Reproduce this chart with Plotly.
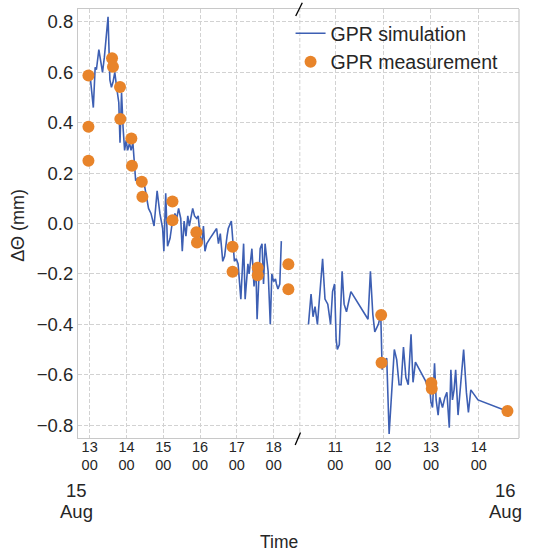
import plotly.graph_objects as go

# ---------------- data ----------------
DAY1 = "2021-08-15 "
DAY2 = "2021-08-16 "

sim_left_time = [
    "13:01", "13:06", "13:09", "13:11", "13:15", "13:17:30", "13:21", "13:24", "13:27", "13:30",
    "13:33", "13:35:30", "13:38", "13:41", "13:44", "13:47:30", "13:49:30", "13:52", "13:54:30", "13:57",
    "13:59:30", "14:02", "14:05", "14:07:30", "14:10:30", "14:13", "14:15", "14:18:30", "14:22", "14:28",
    "14:32", "14:36", "14:40", "14:43:30", "14:45", "14:50", "14:54:30", "14:59", "15:01", "15:04",
    "15:07", "15:11", "15:14:30", "15:19", "15:22", "15:25", "15:28:30", "15:31", "15:34", "15:37",
    "15:40", "15:42:30", "15:45", "15:48", "15:51", "15:54:30", "15:57", "16:00", "16:03", "16:05:30",
    "16:08", "16:11", "16:16", "16:22", "16:27", "16:30", "16:33", "16:37", "16:40", "16:44",
    "16:46", "16:51", "16:56", "16:59", "17:02", "17:06:30", "17:11", "17:13:30", "17:18", "17:20",
    "17:24:30", "17:28", "17:31", "17:33", "17:35:30", "17:38", "17:41", "17:43:30", "17:46", "17:51",
    "17:54:30", "17:57", "18:00", "18:03", "18:04:30", "18:07", "18:10", "18:12:30",
]
sim_left_val = [
    0.58, 0.46, 0.62, 0.61, 0.69, 0.65, 0.60, 0.66, 0.75, 0.82,
    0.57, 0.54, 0.56, 0.60, 0.54, 0.48, 0.32, 0.52, 0.38, 0.29,
    0.33, 0.29, 0.32, 0.29, 0.32, 0.25, 0.17, 0.18, 0.16, 0.17,
    0.11, 0.06, 0.04, 0.00, -0.01, 0.13, 0.04, -0.02, -0.11, 0.12,
    -0.09, -0.06, 0.00, 0.04, 0.02, 0.06, 0.02, -0.11, 0.01, -0.05,
    0.03, -0.01, 0.03, 0.06, 0.03, 0.02, 0.03, -0.05, -0.08, -0.01,
    -0.11, -0.08, -0.06, -0.04, -0.02, -0.08, -0.04, -0.15, -0.13, -0.05,
    -0.02, 0.01, -0.15, -0.14, -0.16, -0.30, -0.08, -0.30, -0.16, -0.20,
    -0.10, -0.25, -0.17, -0.38, -0.20, -0.10, -0.08, -0.24, -0.08, -0.19,
    -0.40, -0.20, -0.23, -0.22, -0.24, -0.26, -0.24, -0.07,
]

sim_right_time = [
    "10:26:15", "10:29:30", "10:32", "10:34:30", "10:37:30", "10:40:30", "10:44", "10:47", "10:50:30", "10:54",
    "10:56:30", "10:59", "11:01", "11:02:30", "11:05", "11:08:30", "11:11", "11:14", "11:19:30", "11:41",
    "11:44", "11:47", "11:49:30", "11:54", "11:57", "11:58:45", "12:01", "12:04:30", "12:07:30", "12:14",
    "12:17", "12:20", "12:22:30", "12:25:30", "12:28:30", "12:31:30", "12:35", "12:37:30", "12:40:30", "12:52:30",
    "12:59", "13:00", "13:02", "13:04:30", "13:06:30", "13:09", "13:11", "13:14:30", "13:17:30", "13:20",
    "13:23", "13:25", "13:27", "13:29", "13:31", "13:34", "13:37:30", "13:41", "13:44:30", "13:47",
    "13:50", "13:52:30", "13:59", "14:36",
]
sim_right_val = [
    -0.40, -0.28, -0.37, -0.33, -0.40, -0.27, -0.14, -0.30, -0.32, -0.40,
    -0.27, -0.24, -0.46, -0.50, -0.48, -0.19, -0.32, -0.35, -0.27, -0.38,
    -0.19, -0.36, -0.43, -0.40, -0.36, -0.58, -0.55, -0.535, -0.835, -0.50,
    -0.54, -0.64, -0.64, -0.49, -0.61, -0.64, -0.44, -0.63, -0.55, -0.62,
    -0.67, -0.71, -0.73, -0.555, -0.70, -0.76, -0.69, -0.73, -0.69, -0.67,
    -0.81, -0.58, -0.70, -0.66, -0.58, -0.76, -0.63, -0.50, -0.67, -0.75,
    -0.66, -0.67, -0.70, -0.745,
]

meas_left_time = [
    "12:58", "12:58", "12:58", "13:36:30", "13:38", "13:49:30", "13:50", "14:08", "14:09", "14:25",
    "14:26", "15:15", "15:15", "15:54", "15:55", "16:53", "16:53", "17:34", "17:34", "18:24", "18:24",
]
meas_left_val = [
    0.587, 0.384, 0.249, 0.656, 0.622, 0.542, 0.415, 0.337, 0.229, 0.166,
    0.106, 0.087, 0.013, -0.035, -0.075, -0.092, -0.191, -0.176, -0.205, -0.162, -0.261,
]
meas_right_time = ["11:57:30", "11:58", "13:00:30", "13:01", "14:36"]
meas_right_val = [-0.363, -0.552, -0.633, -0.656, -0.744]

left_tick_hours = ["13", "14", "15", "16", "17", "18"]
right_tick_hours = ["11", "12", "13", "14"]
y_ticks = [-0.8, -0.6, -0.4, -0.2, 0.0, 0.2, 0.4, 0.6, 0.8]

# ---------------- styling ----------------
LINE_C = "#3d5fb3"
DOT_C = "#e8842a"
TXT_C = "#262626"
GRID_C = "#d2d2d2"
SPINE_C = "#c8c8c8"
FONT = "Liberation Sans, Arial, sans-serif"

fig = go.Figure()

fig.add_trace(go.Scatter(
    x=[DAY1 + t for t in sim_left_time], y=sim_left_val, mode="lines",
    line=dict(color=LINE_C, width=1.6), name="GPR simulation",
    xaxis="x", yaxis="y", legendgroup="sim"))
fig.add_trace(go.Scatter(
    x=[DAY2 + t for t in sim_right_time], y=sim_right_val, mode="lines",
    line=dict(color=LINE_C, width=1.6), name="GPR simulation", showlegend=False,
    xaxis="x2", yaxis="y", legendgroup="sim"))
fig.add_trace(go.Scatter(
    x=[DAY1 + t for t in meas_left_time], y=meas_left_val, mode="markers",
    marker=dict(color=DOT_C, size=12), name="GPR measurement",
    xaxis="x", yaxis="y", legendgroup="meas"))
fig.add_trace(go.Scatter(
    x=[DAY2 + t for t in meas_right_time], y=meas_right_val, mode="markers",
    marker=dict(color=DOT_C, size=12), name="GPR measurement", showlegend=False,
    xaxis="x2", yaxis="y", legendgroup="meas"))

xcommon = dict(
    type="date", showgrid=True, gridcolor=GRID_C, griddash="4px,2px", gridwidth=1,
    showline=True, linecolor=SPINE_C, linewidth=1.2, mirror=True, zeroline=False,
    ticks="", tickfont=dict(size=14.5, color=TXT_C, family=FONT),
    ticklabelstandoff=-5,
)

fig.update_layout(
    width=535, height=556,
    margin=dict(l=78, r=16, t=9, b=118),
    paper_bgcolor="white", plot_bgcolor="white",
    font=dict(family=FONT, color=TXT_C),
    xaxis=dict(
        domain=[0, 0.5],
        range=[DAY1 + "12:41", DAY1 + "18:40:30"],
        tickvals=[DAY1 + h + ":00" for h in left_tick_hours],
        ticktext=[h + "<br>00" for h in left_tick_hours],
        anchor="y", **xcommon),
    xaxis2=dict(
        domain=[0.5, 1],
        range=[DAY2 + "10:13:45", DAY2 + "14:50:30"],
        tickvals=[DAY2 + h + ":00" for h in right_tick_hours],
        ticktext=[h + "<br>00" for h in right_tick_hours],
        anchor="y", **xcommon),
    yaxis=dict(
        range=[-0.851, 0.851], tickvals=y_ticks, tickformat=".1f",
        showgrid=True, gridcolor=GRID_C, griddash="4px,2px", gridwidth=1,
        showline=True, linecolor=SPINE_C, linewidth=1.2, zeroline=False,
        ticks="", tickfont=dict(size=18.5, color=TXT_C, family=FONT),
        anchor="x"),
    legend=dict(
        x=0.482, y=0.988, xanchor="left", yanchor="top",
        bgcolor="rgba(0,0,0,0)", font=dict(size=19.5, color=TXT_C, family=FONT),
        tracegroupgap=0),
    showlegend=True,
)

shapes = [
    # right spine
    dict(type="line", xref="paper", yref="paper", x0=1, x1=1, y0=0, y1=1,
         line=dict(color=SPINE_C, width=1.2)),
    # dashed grid line just right of the break
    dict(type="line", xref="paper", yref="paper", x0=0.503, x1=0.503, y0=0, y1=1,
         line=dict(color=GRID_C, width=1, dash="4px,2px"), layer="below"),
    # break marks
    dict(type="line", xref="paper", yref="paper", x0=0.4937, x1=0.5086, y0=0.9837, y1=1.0147,
         line=dict(color="black", width=1.3)),
    dict(type="line", xref="paper", yref="paper", x0=0.4925, x1=0.5045, y0=-0.0163, y1=0.0128,
         line=dict(color="black", width=1.3)),
]
fig.update_layout(shapes=shapes)

annotations = [
    dict(text="ΔΘ (mm)", xref="paper", yref="paper", x=-0.136, y=0.495,
         xanchor="center", yanchor="middle", textangle=-90, showarrow=False,
         font=dict(size=18, color=TXT_C, family=FONT)),
    dict(text="Time", xref="paper", yref="paper", x=0.456, y=-0.2424,
         xanchor="center", yanchor="middle", showarrow=False,
         font=dict(size=17.5, color=TXT_C, family=FONT)),
    dict(text="15", xref="paper", yref="paper", x=-0.003, y=-0.1235,
         xanchor="center", yanchor="middle", showarrow=False,
         font=dict(size=18.5, color=TXT_C, family=FONT)),
    dict(text="Aug", xref="paper", yref="paper", x=-0.003, y=-0.172,
         xanchor="center", yanchor="middle", showarrow=False,
         font=dict(size=18.5, color=TXT_C, family=FONT)),
    dict(text="16", xref="paper", yref="paper", x=0.9705, y=-0.1235,
         xanchor="center", yanchor="middle", showarrow=False,
         font=dict(size=18.5, color=TXT_C, family=FONT)),
    dict(text="Aug", xref="paper", yref="paper", x=0.9705, y=-0.172,
         xanchor="center", yanchor="middle", showarrow=False,
         font=dict(size=18.5, color=TXT_C, family=FONT)),
]
fig.update_layout(annotations=annotations)

fig.write_html("out.html", config={"displayModeBar": False},
               post_script="document.body.style.margin='0';")
